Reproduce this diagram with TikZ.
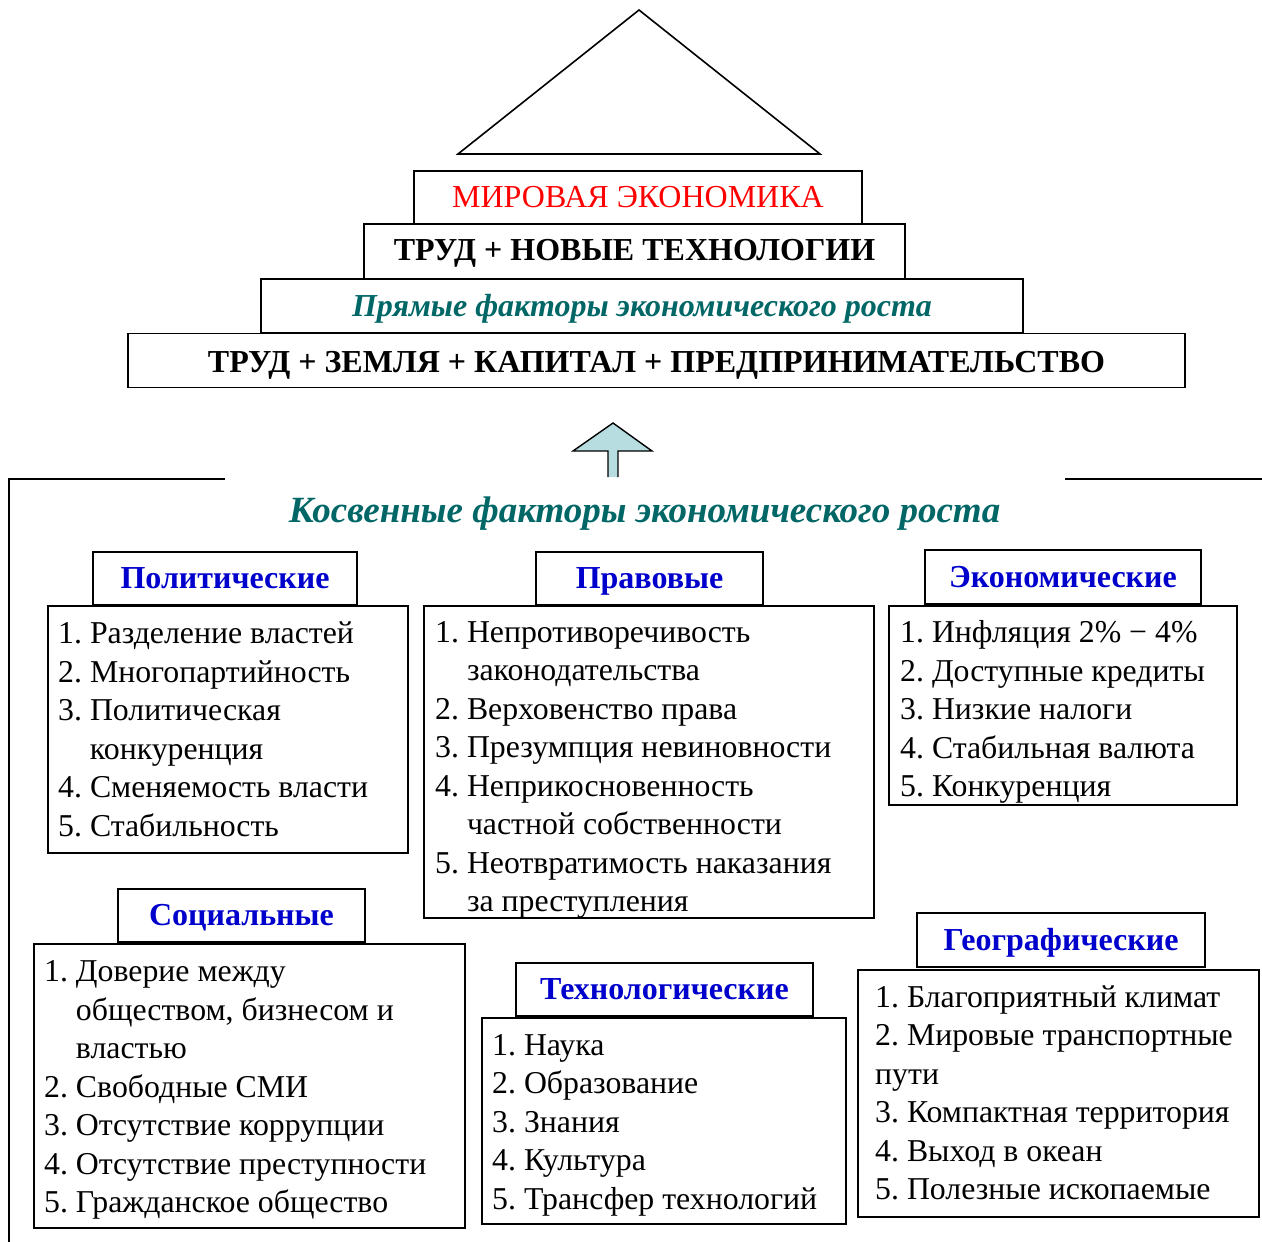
\documentclass[tikz,border=0pt]{standalone}
\usepackage{fontspec}
\setmainfont{Liberation Serif}
\frenchspacing
\definecolor{tealtxt}{RGB}{0,102,102}
\definecolor{hdrblue}{RGB}{0,0,204}
\definecolor{arrowfill}{RGB}{183,221,224}
\newcommand\myind{\hphantom{1.\ }}
\newcommand\firstl{\rule{0pt}{30pt}}
\newcommand\listfont{\fontsize{31.8}{38.5}\selectfont}
\newcommand\bigfont{\fontsize{32}{38}\selectfont}
\begin{document}
\begin{tikzpicture}[x=1pt,y=-1pt,
  box/.style={draw, line width=1.6pt, rectangle, inner sep=0pt},
  topbox/.style={box, text height=26, text depth=6},
  hdr/.style={box, font=\bigfont\bfseries, text=hdrblue, text height=26, text depth=6},
  frame/.style={box, anchor=north west},
  listtext/.style={anchor=north west, align=left, inner sep=0pt, font=\listfont}
]
\useasboundingbox (0,0) rectangle (1262,1242);
% roof
\draw[line width=1.6pt] (458,154) -- (639,10) -- (820,154) -- cycle;
% top stack
\node[topbox, minimum width=448, minimum height=53, text=red, font=\bigfont] (world) at (638,197.5) {МИРОВАЯ ЭКОНОМИКА};
\node[topbox, minimum width=541, minimum height=55, font=\bigfont\bfseries, text height=24, text depth=7] (labtech) at (634.5,251.5) {ТРУД + НОВЫЕ ТЕХНОЛОГИИ};
\node[topbox, minimum width=762, minimum height=54, text=tealtxt, font=\bigfont\bfseries\itshape] (direct) at (642,306) {Прямые факторы экономического роста};
\node[topbox, minimum width=1057, minimum height=54, font=\bigfont\bfseries, text height=28, text depth=4] (base) at (656.5,360.5) {ТРУД + ЗЕМЛЯ + КАПИТАЛ + ПРЕДПРИНИМАТЕЛЬСТВО};
% arrow
\fill[arrowfill] (613,423) -- (652,451) -- (618,451) -- (618,477) -- (608,477) -- (608,451) -- (573,451) -- cycle;
\draw[line width=1.4pt] (608,477) -- (608,451) -- (573,451) -- (613,423) -- (652,451) -- (618,451) -- (618,477);
% bracket lines
\coordinate (lL) at (225,479);
\coordinate (lC) at (9,479);
\coordinate (lB) at (9,1242);
\coordinate (rL) at (1065,479);
\coordinate (rR) at (1262,479);
\draw[line width=1.6pt] (lL) -- (lC) -- (lB);
\draw[line width=1.6pt] (rL) -- (rR);
\node[anchor=base, inner sep=0pt, text=tealtxt, font=\fontsize{37}{42}\selectfont\bfseries\itshape] (indirect) at (644.5,522) {Косвенные факторы экономического роста};
% Political
\node[hdr, minimum width=264, minimum height=53] (polh) at (225,578.5) {Политические};
\node[frame, minimum width=360, minimum height=247] (poll) at (47,605) {};
\node[listtext] (polt) at (58,613.5) {\firstl 1. Разделение властей\\2. Многопартийность\\3. Политическая\\\myind конкуренция\\4. Сменяемость власти\\5. Стабильность};
% Legal
\node[hdr, minimum width=227, minimum height=53] (legh) at (649.5,578.5) {Правовые};
\node[frame, minimum width=450, minimum height=312] (legl) at (423,605) {};
\node[listtext] (legt) at (435,612) {\firstl 1. Непротиворечивость\\\myind законодательства\\2. Верховенство права\\3. Презумпция невиновности\\4. Неприкосновенность\\\myind частной собственности\\5. Неотвратимость наказания\\\myind за преступления};
% Economic
\node[hdr, minimum width=276, minimum height=54] (ecoh) at (1063,577) {Экономические};
\node[frame, minimum width=348, minimum height=199] (ecol) at (888,605) {};
\node[listtext] (ecot) at (900,612.5) {\firstl 1. Инфляция 2\% − 4\%\\2. Доступные кредиты\\3. Низкие налоги\\4. Стабильная валюта\\5. Конкуренция};
% Social
\node[hdr, minimum width=247, minimum height=53] (soch) at (241.5,915.5) {Социальные};
\node[frame, minimum width=431, minimum height=284] (socl) at (33,943) {};
\node[listtext] (soct) at (44,951.5) {\firstl 1. Доверие между\\\myind обществом, бизнесом и\\\myind властью\\2. Свободные СМИ\\3. Отсутствие коррупции\\4. Отсутствие преступности\\5. Гражданское общество};
% Technological
\node[hdr, minimum width=297, minimum height=53] (tech) at (664.5,989.5) {Технологические};
\node[frame, minimum width=364, minimum height=206] (tecl) at (481,1017) {};
\node[listtext] (tect) at (492,1025) {\firstl 1. Наука\\2. Образование\\3. Знания\\4. Культура\\5. Трансфер технологий};
% Geographic
\node[hdr, minimum width=288, minimum height=54] (geoh) at (1061,940) {Географические};
\node[frame, minimum width=401, minimum height=247] (geol) at (857,969) {};
\node[listtext] (geot) at (875,977) {\firstl 1. Благоприятный климат\\2. Мировые транспортные\\пути\\3. Компактная территория\\4. Выход в океан\\5. Полезные ископаемые};
\end{tikzpicture}
\end{document}
